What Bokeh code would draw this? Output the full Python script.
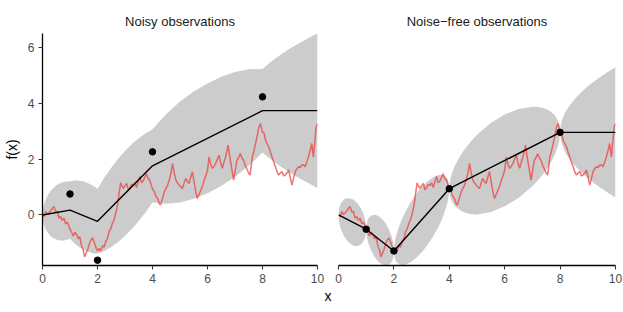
from bokeh.plotting import figure
from bokeh.models import Range1d, Div, FixedTicker
from bokeh.layouts import row, column
from bokeh.embed import file_html
from bokeh.resources import INLINE

# ---------------- data ----------------
obs_x = [1, 2, 4, 8]
noisy_obs_y = [0.75, -1.62, 2.26, 4.23]
free_obs_y = [-0.51, -1.29, 0.94, 2.96]

mean_x = [0, 1, 2, 4, 8, 10]
noisy_mean_y = [0, 0.175, -0.226, 1.761, 3.736, 3.736]
free_mean_y = [0, -0.51, -1.29, 0.94, 2.96, 2.96]

# true (latent) function path
path_x = [0.00, 0.06, 0.12, 0.18, 0.24, 0.30, 0.36, 0.42, 0.48, 0.54, 0.60, 0.66, 0.72, 0.78, 0.84, 0.90, 0.96,
          1.00, 1.06, 1.12, 1.18, 1.24, 1.30, 1.36, 1.42, 1.48, 1.53, 1.58, 1.64, 1.70, 1.76, 1.82, 1.88, 1.94,
          2.00, 2.06, 2.12, 2.18, 2.24, 2.30, 2.36, 2.42, 2.48, 2.54, 2.60, 2.66, 2.72, 2.78, 2.84, 2.88, 2.94,
          3.00, 3.06, 3.12, 3.18, 3.24, 3.30, 3.36, 3.42, 3.48, 3.54, 3.60, 3.66, 3.72, 3.78, 3.84, 3.90, 3.96,
          4.00, 4.07, 4.13, 4.19, 4.25, 4.29, 4.35, 4.43, 4.49, 4.55, 4.61, 4.67, 4.73, 4.79, 4.85, 4.91, 4.97,
          5.03, 5.09, 5.15, 5.21, 5.27, 5.33, 5.39, 5.45, 5.51, 5.57, 5.63, 5.70, 5.76, 5.82, 5.88, 5.94,
          6.00, 6.06, 6.12, 6.18, 6.24, 6.30, 6.36, 6.42, 6.48, 6.54, 6.60, 6.66, 6.72, 6.75, 6.80, 6.85, 6.90, 6.95,
          7.01, 7.07, 7.13, 7.19, 7.25, 7.31, 7.38, 7.45, 7.50, 7.55, 7.63, 7.69, 7.75, 7.81, 7.87, 7.93,
          8.00, 8.05, 8.11, 8.17, 8.23, 8.29, 8.35, 8.41, 8.47, 8.53, 8.59, 8.65, 8.71, 8.77, 8.83, 8.89, 8.95,
          9.01, 9.07, 9.13, 9.19, 9.25, 9.31, 9.37, 9.43, 9.49, 9.55, 9.61, 9.67, 9.73, 9.79, 9.85, 9.90, 9.95, 10.0]
path_y = [0.00, -0.05, 0.12, 0.02, 0.08, 0.15, 0.24, 0.30, 0.10, 0.14, -0.12, -0.06, -0.20, -0.12, -0.32, -0.25, -0.40,
          -0.51, -0.62, -0.75, -0.62, -0.70, -0.85, -0.78, -1.10, -1.25, -1.50, -1.38, -1.25, -1.05, -0.90, -0.82, -0.98, -1.15,
          -1.29, -1.20, -1.28, -1.10, -1.15, -0.95, -0.85, -0.60, -0.50, -0.30, -0.18, 0.05, 0.30, 0.75, 1.15, 1.05, 0.95,
          1.05, 1.13, 0.90, 0.98, 1.10, 1.05, 1.15, 0.98, 1.20, 1.38, 1.15, 1.22, 1.35, 1.48, 1.30, 1.25, 1.05,
          0.94, 0.83, 0.65, 0.59, 0.40, 0.36, 0.55, 0.83, 0.95, 1.07, 1.25, 1.49, 1.85, 1.50, 1.25, 1.15, 1.07,
          1.00, 0.95, 1.15, 1.31, 1.20, 1.13, 1.35, 1.55, 1.20, 0.85, 0.59, 0.75, 0.89, 1.05, 1.25, 1.40,
          1.61, 2.08, 1.80, 1.67, 1.75, 1.85, 2.00, 2.14, 1.85, 1.67, 1.90, 2.08, 2.35, 2.50, 2.15, 1.85, 1.55, 1.25,
          1.60, 1.96, 2.05, 2.20, 2.05, 1.96, 1.75, 1.61, 1.50, 1.43, 2.08, 2.30, 2.56, 2.85, 3.15, 3.27,
          2.96, 2.95, 2.68, 2.55, 2.44, 2.25, 2.08, 1.90, 1.73, 1.55, 1.43, 1.50, 1.55, 1.40, 1.43, 1.50, 1.61,
          1.35, 1.07, 1.30, 1.55, 1.65, 1.73, 1.70, 1.79, 1.80, 1.73, 1.90, 2.08, 2.30, 2.56, 2.08, 2.60, 3.15, 3.27]

# uncertainty band, noisy observations
noisy_band_x = [0, 0.01, 0.02, 0.05, 0.1, 0.2, 0.3, 0.4, 0.5, 0.6, 0.7, 0.8, 0.9, 1.0,
                1.1, 1.2, 1.3, 1.4, 1.5, 1.6, 1.7, 1.8, 1.9, 2.0,
                2.25, 2.5, 2.75, 3.0, 3.25, 3.5, 3.75, 4.0,
                4.5, 5.0, 5.5, 6.0, 6.5, 7.0, 7.5, 8.0,
                8.25, 8.5, 8.75, 9.0, 9.25, 9.5, 9.75, 10.0]
noisy_band_hi = [0, 0.17, 0.23, 0.37, 0.52, 0.72, 0.87, 0.97, 1.06, 1.12, 1.16, 1.19, 1.20, 1.20,
                 1.23, 1.24, 1.23, 1.22, 1.20, 1.16, 1.12, 1.07, 1.01, 0.93,
                 1.34, 1.69, 2.01, 2.29, 2.54, 2.75, 2.93, 3.07,
                 3.62, 4.06, 4.42, 4.71, 4.95, 5.12, 5.22, 5.23,
                 5.44, 5.63, 5.80, 5.96, 6.11, 6.24, 6.38, 6.50]
noisy_band_lo = [0, -0.16, -0.23, -0.35, -0.49, -0.65, -0.76, -0.83, -0.88, -0.91, -0.92, -0.91, -0.89, -0.85,
                 -0.96, -1.05, -1.12, -1.19, -1.25, -1.30, -1.33, -1.36, -1.38, -1.38,
                 -1.29, -1.15, -0.97, -0.75, -0.50, -0.22, 0.10, 0.45,
                 0.40, 0.45, 0.58, 0.78, 1.04, 1.37, 1.76, 2.24,
                 2.03, 1.84, 1.67, 1.51, 1.37, 1.23, 1.10, 0.97]

# uncertainty band, noise-free observations
free_band_x = [0, 0.02, 0.05, 0.1, 0.2, 0.3, 0.4, 0.5, 0.6, 0.7, 0.8, 0.9, 0.95, 0.98, 1.0,
               1.02, 1.05, 1.1, 1.2, 1.3, 1.4, 1.5, 1.6, 1.7, 1.8, 1.9, 1.95, 1.98, 2.0,
               2.02, 2.05, 2.1, 2.2, 2.3, 2.4, 2.6, 2.8, 3.0, 3.2, 3.4, 3.6, 3.7, 3.8, 3.9, 3.95, 3.98, 4.0,
               4.02, 4.05, 4.1, 4.2, 4.4, 4.6, 4.8, 5.0, 5.5, 6.0, 6.5, 7.0, 7.2, 7.4, 7.6, 7.8, 7.9, 7.95, 7.98, 8.0,
               8.02, 8.05, 8.1, 8.2, 8.3, 8.5, 8.75, 9.0, 9.25, 9.5, 9.75, 10.0]
free_band_hi = [0, 0.22, 0.33, 0.44, 0.56, 0.60, 0.60, 0.57, 0.50, 0.40, 0.25, 0.04, -0.13, -0.27, -0.51,
                -0.30, -0.19, -0.09, -0.01, 0.01, -0.02, -0.08, -0.17, -0.30, -0.48, -0.72, -0.89, -1.04, -1.29,
                -1.04, -0.87, -0.67, -0.37, -0.13, 0.09, 0.45, 0.74, 0.99, 1.19, 1.34, 1.43, 1.44, 1.42, 1.34, 1.25, 1.15, 0.94,
                1.18, 1.33, 1.50, 1.76, 2.13, 2.42, 2.66, 2.87, 3.29, 3.60, 3.80, 3.88, 3.87, 3.83, 3.75, 3.58, 3.42, 3.30, 3.18, 2.96,
                3.19, 3.33, 3.48, 3.70, 3.86, 4.12, 4.39, 4.61, 4.80, 4.98, 5.14, 5.29]
free_band_lo = [0, -0.24, -0.38, -0.55, -0.76, -0.91, -1.01, -1.08, -1.11, -1.11, -1.07, -0.95, -0.84, -0.73, -0.51,
                -0.76, -0.91, -1.08, -1.32, -1.50, -1.63, -1.72, -1.78, -1.81, -1.79, -1.71, -1.61, -1.50, -1.29,
                -1.50, -1.60, -1.69, -1.77, -1.79, -1.78, -1.69, -1.54, -1.34, -1.09, -0.80, -0.44, -0.23, 0.02, 0.32, 0.52, 0.69, 0.94,
                0.72, 0.60, 0.48, 0.32, 0.16, 0.07, 0.03, 0.02, 0.11, 0.31, 0.61, 1.03, 1.24, 1.48, 1.77, 2.14, 2.40, 2.57, 2.72, 2.96,
                2.73, 2.59, 2.44, 2.22, 2.06, 1.80, 1.54, 1.32, 1.12, 0.95, 0.78, 0.63]

x_ticks = [0, 2, 4, 6, 8, 10]
y_ticks = [0, 2, 4, 6]

# ---------------- styling ----------------
FONT = "Liberation Sans"
BAND = "#CCCCCC"
PATH = "#EE3B3B"

y_range = Range1d(-1.81, 6.5)


def panel(title, width, border_left, border_right, show_y):
    p = figure(width=width, height=287, x_range=Range1d(0, 10), y_range=y_range,
               output_backend="svg", toolbar_location=None,
               min_border_left=border_left, min_border_right=border_right,
               min_border_top=33, min_border_bottom=22)
    p.title.text = title
    p.title.align = "center"
    p.title.text_font = FONT
    p.title.text_font_size = "13px"
    p.title.text_font_style = "normal"
    p.title.text_color = "#1A1A1A"
    p.title.standoff = 9
    p.outline_line_color = None
    p.xgrid.visible = False
    p.ygrid.visible = False
    p.background_fill_color = "white"
    p.border_fill_color = "white"

    p.xaxis.ticker = FixedTicker(ticks=x_ticks)
    p.yaxis.ticker = FixedTicker(ticks=y_ticks)
    for ax in p.xaxis + p.yaxis:
        ax.axis_line_color = "black"
        ax.axis_line_width = 1.3
        ax.major_tick_line_color = "#333333"
        ax.major_tick_line_width = 1.1
        ax.major_tick_out = 4
        ax.major_tick_in = 0
        ax.minor_tick_line_color = None
        ax.major_label_text_font = FONT
        ax.major_label_text_font_size = "12px"
        ax.major_label_text_color = "#4D4D4D"
        ax.major_label_standoff = 4
        ax.axis_label_text_font = FONT
        ax.axis_label_text_font_size = "14px"
        ax.axis_label_text_font_style = "normal"
        ax.axis_label_text_color = "black"
    if show_y:
        p.yaxis.axis_label = "f(x)"
        p.yaxis.axis_label_standoff = 5
    else:
        p.yaxis.visible = False
    return p


p1 = panel("Noisy observations", 327, 41, 10, True)
p1.varea(x=noisy_band_x, y1=noisy_band_lo, y2=noisy_band_hi, fill_color=BAND, fill_alpha=1.0)
p1.line(path_x, path_y, line_color=PATH, line_alpha=0.72, line_width=1.5)
p1.line(mean_x, noisy_mean_y, line_color="black", line_width=1.4)
p1.scatter(obs_x, noisy_obs_y, size=6.5, fill_color="black", line_color="black")

p2 = panel("Noise\u2212free observations", 296, 11, 8, False)
p2.varea(x=free_band_x, y1=free_band_lo, y2=free_band_hi, fill_color=BAND, fill_alpha=1.0)
p2.line(path_x, path_y, line_color=PATH, line_alpha=0.72, line_width=1.5)
p2.line(mean_x, free_mean_y, line_color="black", line_width=1.4)
p2.scatter(obs_x, free_obs_y, size=6.5, fill_color="black", line_color="black")

xlab = Div(text="x", width=40, height=18, margin=(0, 0, 0, 308),
           styles={"text-align": "center", "font-family": FONT, "font-size": "14px",
                   "color": "black", "line-height": "18px"})

layout = column(row(p1, p2), xlab)

with open("out.html", "w") as f:
    f.write(file_html(layout, INLINE))
